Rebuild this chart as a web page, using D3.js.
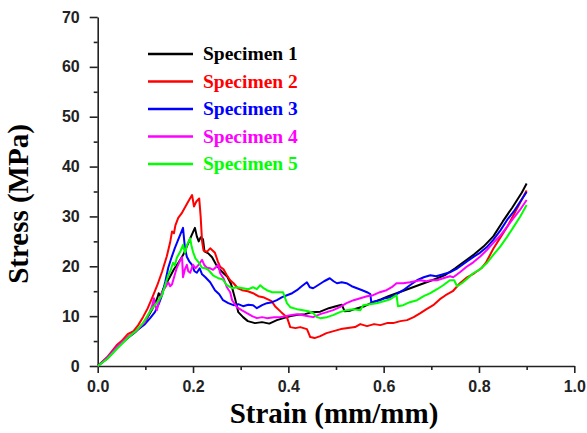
<!DOCTYPE html>
<html>
<head>
<meta charset="utf-8">
<script src="https://cdn.jsdelivr.net/npm/d3@7"></script>
<style>
    body { margin: 0; background: #fff; }
    svg { display: block; }
    .tick text { font-family: "Liberation Sans", Arial, sans-serif; font-weight: bold; font-size: 16px; fill: #222; }
    .axis path, .axis line { stroke: #222; stroke-width: 1.6px; }
</style>
</head>
<body>
<div id="chart"><svg></svg></div>
<script>
// Series names and colours (Origin defaults)
const specimens = ["Specimen 1", "Specimen 2", "Specimen 3", "Specimen 4", "Specimen 5"];
const colors = ["#000000", "#ff0000", "#0000ff", "#ff00ff", "#00ff00"];

// [strain (mm/mm), stress (MPa)]
const spec1 = [[0,0],[0.02,1.5],[0.04,3.6],[0.06,5.4],[0.08,6.9],[0.10,9.0],[0.115,11.5],[0.125,13.6],[0.128,14.6],[0.132,14.0],[0.140,16.0],[0.150,17.6],[0.160,19.4],[0.170,20.8],[0.180,22.4],[0.188,24.2],[0.196,26.0],[0.204,27.7],[0.208,26.0],[0.212,25.0],[0.216,25.8],[0.221,25.4],[0.224,23.0],[0.232,22.6],[0.240,21.8],[0.248,20.4],[0.256,19.4],[0.264,18.6],[0.272,17.9],[0.280,16.4],[0.288,13.6],[0.295,10.8],[0.305,9.8],[0.315,9.0],[0.330,8.6],[0.345,8.8],[0.360,8.5],[0.376,9.2],[0.390,9.6],[0.405,10.0],[0.420,10.3],[0.435,10.4],[0.450,10.8],[0.467,10.9],[0.485,11.6],[0.500,12.0],[0.512,12.3],[0.518,11.0],[0.530,11.1],[0.545,11.6],[0.560,12.0],[0.578,12.8],[0.595,13.4],[0.610,14.0],[0.630,14.7],[0.650,15.4],[0.670,16.1],[0.690,16.8],[0.710,17.5],[0.730,18.3],[0.750,19.6],[0.770,21.0],[0.790,22.4],[0.810,24.0],[0.830,26.0],[0.850,29.0],[0.870,31.8],[0.890,34.8],[0.900,36.6]];
const spec2 = [[0,0],[0.02,1.8],[0.04,4.2],[0.05,5.0],[0.063,6.4],[0.075,7.0],[0.085,8.2],[0.095,9.8],[0.105,11.6],[0.114,13.6],[0.125,16.2],[0.135,18.9],[0.145,22.0],[0.152,24.8],[0.156,27.0],[0.160,26.6],[0.163,28.2],[0.169,29.7],[0.176,30.6],[0.183,31.8],[0.190,33.0],[0.198,34.3],[0.202,32.0],[0.207,33.0],[0.213,33.6],[0.216,30.0],[0.219,25.0],[0.222,23.2],[0.229,22.9],[0.236,23.6],[0.246,22.7],[0.252,21.0],[0.257,19.9],[0.264,19.4],[0.271,18.2],[0.278,17.2],[0.285,16.6],[0.294,15.6],[0.303,15.2],[0.315,15.0],[0.326,14.6],[0.337,14.0],[0.347,13.8],[0.356,13.4],[0.365,13.0],[0.372,12.0],[0.385,10.8],[0.397,9.8],[0.404,7.8],[0.415,7.6],[0.425,7.8],[0.439,7.4],[0.446,5.8],[0.455,5.6],[0.467,6.0],[0.480,6.6],[0.495,7.0],[0.510,7.4],[0.525,7.6],[0.540,7.8],[0.551,8.4],[0.565,8.0],[0.580,8.4],[0.593,8.2],[0.607,8.6],[0.620,8.6],[0.635,9.0],[0.649,9.2],[0.663,9.8],[0.677,10.6],[0.690,11.4],[0.704,12.2],[0.718,13.4],[0.730,14.2],[0.745,15.0],[0.760,16.6],[0.775,17.8],[0.790,18.6],[0.805,19.6],[0.815,20.8],[0.830,23.5],[0.845,25.8],[0.859,27.9],[0.872,30.2],[0.886,32.7],[0.900,35.2]];
const spec3 = [[0,0],[0.02,1.6],[0.04,3.8],[0.063,5.6],[0.08,7.0],[0.099,8.4],[0.110,9.6],[0.120,10.8],[0.128,12.4],[0.135,14.2],[0.142,17.0],[0.148,19.7],[0.155,21.8],[0.162,23.7],[0.170,25.6],[0.179,27.7],[0.183,23.7],[0.187,21.9],[0.192,21.0],[0.198,20.3],[0.203,19.0],[0.208,18.7],[0.214,19.6],[0.219,18.4],[0.226,17.8],[0.236,16.8],[0.246,15.2],[0.255,14.4],[0.263,13.2],[0.274,12.6],[0.285,12.2],[0.295,12.4],[0.305,12.0],[0.316,12.3],[0.326,12.2],[0.334,11.6],[0.345,12.2],[0.355,12.6],[0.366,12.8],[0.376,13.2],[0.387,13.8],[0.397,14.2],[0.408,14.6],[0.418,15.2],[0.428,16.0],[0.439,16.8],[0.445,15.8],[0.452,15.6],[0.462,16.2],[0.475,17.0],[0.487,17.6],[0.495,17.0],[0.502,16.6],[0.512,16.8],[0.522,16.6],[0.533,16.0],[0.544,15.6],[0.555,15.2],[0.565,14.8],[0.572,14.4],[0.574,12.8],[0.583,13.0],[0.593,13.2],[0.603,13.6],[0.614,13.8],[0.627,14.4],[0.641,15.2],[0.655,16.2],[0.670,17.2],[0.684,17.8],[0.698,18.2],[0.710,18.0],[0.725,18.4],[0.739,18.8],[0.755,19.6],[0.774,20.9],[0.790,22.0],[0.802,22.7],[0.816,23.8],[0.830,25.3],[0.845,27.2],[0.859,29.3],[0.873,31.0],[0.886,32.9],[0.900,34.9]];
const spec4 = [[0,0],[0.02,1.6],[0.04,3.8],[0.063,5.8],[0.08,7.0],[0.099,8.8],[0.108,10.6],[0.114,12.0],[0.118,13.6],[0.120,12.4],[0.124,11.2],[0.128,12.8],[0.135,14.8],[0.142,15.8],[0.148,16.8],[0.152,16.0],[0.156,16.4],[0.162,18.4],[0.166,19.7],[0.172,21.0],[0.177,21.8],[0.179,17.8],[0.183,19.4],[0.187,20.3],[0.190,19.0],[0.194,18.7],[0.200,20.3],[0.205,19.6],[0.208,19.9],[0.214,20.6],[0.219,21.3],[0.224,20.2],[0.229,19.7],[0.236,19.6],[0.242,19.3],[0.248,19.8],[0.253,20.3],[0.257,18.6],[0.264,17.6],[0.271,15.8],[0.278,14.8],[0.282,13.2],[0.292,11.8],[0.302,11.2],[0.313,10.6],[0.324,10.0],[0.334,9.6],[0.345,9.8],[0.355,9.6],[0.370,9.8],[0.383,9.8],[0.394,10.0],[0.404,10.2],[0.418,10.4],[0.431,10.2],[0.442,10.0],[0.452,9.8],[0.467,10.4],[0.481,10.8],[0.494,11.2],[0.508,11.8],[0.522,12.6],[0.537,13.2],[0.551,13.6],[0.565,14.0],[0.578,14.2],[0.592,14.8],[0.606,15.2],[0.617,15.8],[0.627,16.6],[0.641,16.6],[0.655,16.8],[0.666,17.0],[0.677,17.2],[0.690,17.0],[0.698,17.2],[0.712,17.2],[0.725,17.6],[0.739,18.0],[0.746,17.8],[0.760,18.8],[0.774,19.9],[0.788,20.8],[0.802,21.9],[0.816,23.2],[0.830,24.7],[0.845,26.2],[0.859,27.9],[0.872,29.6],[0.886,31.3],[0.900,33.3]];
const spec5 = [[0,0],[0.02,1.4],[0.04,3.4],[0.063,5.6],[0.08,7.0],[0.095,8.6],[0.105,10.2],[0.115,11.6],[0.125,12.8],[0.135,14.2],[0.142,16.4],[0.148,18.2],[0.153,19.2],[0.158,20.7],[0.162,20.2],[0.166,21.7],[0.173,22.9],[0.179,24.3],[0.183,22.7],[0.188,24.4],[0.194,25.6],[0.197,24.0],[0.200,22.9],[0.205,21.6],[0.211,20.9],[0.219,19.7],[0.226,19.6],[0.232,19.3],[0.242,18.2],[0.253,17.6],[0.262,17.4],[0.271,16.2],[0.282,15.6],[0.292,15.8],[0.305,15.6],[0.316,15.4],[0.326,15.8],[0.334,15.4],[0.341,16.2],[0.348,15.6],[0.355,15.2],[0.366,14.8],[0.376,14.8],[0.389,14.8],[0.397,12.6],[0.404,11.8],[0.418,11.4],[0.431,11.2],[0.442,11.0],[0.452,10.6],[0.460,9.8],[0.467,9.6],[0.481,9.8],[0.494,10.2],[0.508,10.8],[0.522,11.2],[0.537,11.4],[0.551,11.2],[0.557,12.2],[0.571,12.4],[0.585,12.6],[0.600,13.0],[0.614,13.4],[0.627,14.2],[0.630,12.0],[0.641,12.2],[0.655,12.8],[0.670,13.2],[0.684,14.0],[0.698,14.6],[0.712,15.4],[0.725,16.2],[0.739,17.2],[0.748,17.2],[0.754,16.0],[0.764,16.6],[0.774,17.4],[0.788,18.6],[0.802,19.4],[0.816,20.6],[0.830,22.3],[0.845,24.0],[0.859,25.9],[0.872,27.8],[0.886,29.9],[0.900,32.3]];
const series = [spec1, spec2, spec3, spec4, spec5];

const xMajor = [0, 0.2, 0.4, 0.6, 0.8, 1.0];
const xMinor = [0.1, 0.3, 0.5, 0.7, 0.9];
const yMajor = [0, 10, 20, 30, 40, 50, 60, 70];
const yMinor = [5, 15, 25, 35, 45, 55, 65];

const W = 587, H = 433;
const margin = { top: 17, right: 12.7, bottom: 67, left: 97.7 };
const width = W - margin.left - margin.right;
const height = H - margin.top - margin.bottom;

const svg = d3.select("#chart svg").attr("width", W).attr("height", H);
const g = svg.append("g").attr("transform", `translate(${margin.left},${margin.top})`);

const x = d3.scaleLinear().domain([0, 1]).range([0, width]);
const y = d3.scaleLinear().domain([0, 70]).range([height, 0]);

// minor ticks first, majors with the axis line on top
g.append("g").attr("class", "axis")
    .attr("transform", `translate(0,${height})`)
    .call(d3.axisBottom(x).tickValues(xMinor).tickSize(4).tickFormat(""))
    .call(a => a.select(".domain").remove());
g.append("g").attr("class", "axis")
    .call(d3.axisLeft(y).tickValues(yMinor).tickSize(4).tickFormat(""))
    .call(a => a.select(".domain").remove());

g.append("g").attr("class", "axis")
    .attr("transform", `translate(0,${height})`)
    .call(d3.axisBottom(x).tickValues(xMajor).tickSize(7).tickSizeOuter(0).tickPadding(8).tickFormat(d3.format(".1f")));
g.append("g").attr("class", "axis")
    .call(d3.axisLeft(y).tickValues(yMajor).tickSize(8).tickSizeOuter(0).tickPadding(10).tickFormat(d3.format("d")));

const line = d3.line().x(d => x(d[0])).y(d => y(d[1]));

g.selectAll(".curve")
    .data(series)
    .enter().append("path")
    .attr("class", "curve")
    .attr("d", line)
    .attr("fill", "none")
    .attr("stroke", (d, i) => colors[i])
    .attr("stroke-width", 2)
    .attr("stroke-linejoin", "round");

// legend
const legend = svg.append("g").attr("transform", "translate(148,54)");
const rows = legend.selectAll(".row")
    .data(specimens)
    .enter().append("g")
    .attr("class", "row")
    .attr("transform", (d, i) => `translate(0,${i * 27.5})`);
rows.append("line")
    .attr("x1", 0).attr("x2", 45)
    .attr("stroke", (d, i) => colors[i])
    .attr("stroke-width", 2.5);
rows.append("text")
    .attr("x", 55).attr("y", 6)
    .attr("fill", (d, i) => colors[i])
    .style("font-family", "'Liberation Serif', 'Times New Roman', serif")
    .style("font-weight", "bold")
    .style("font-size", "19.5px")
    .text(d => d);

// axis titles
svg.append("text")
    .attr("x", margin.left + width / 2 - 2)
    .attr("y", 423)
    .attr("text-anchor", "middle")
    .style("font-family", "'Liberation Serif', 'Times New Roman', serif")
    .style("font-weight", "bold")
    .style("font-size", "29px")
    .text("Strain (mm/mm)");

svg.append("text")
    .attr("transform", "translate(28,204) rotate(-90)")
    .attr("text-anchor", "middle")
    .style("font-family", "'Liberation Serif', 'Times New Roman', serif")
    .style("font-weight", "bold")
    .style("font-size", "29px")
    .text("Stress (MPa)");
</script>
</body>
</html>
